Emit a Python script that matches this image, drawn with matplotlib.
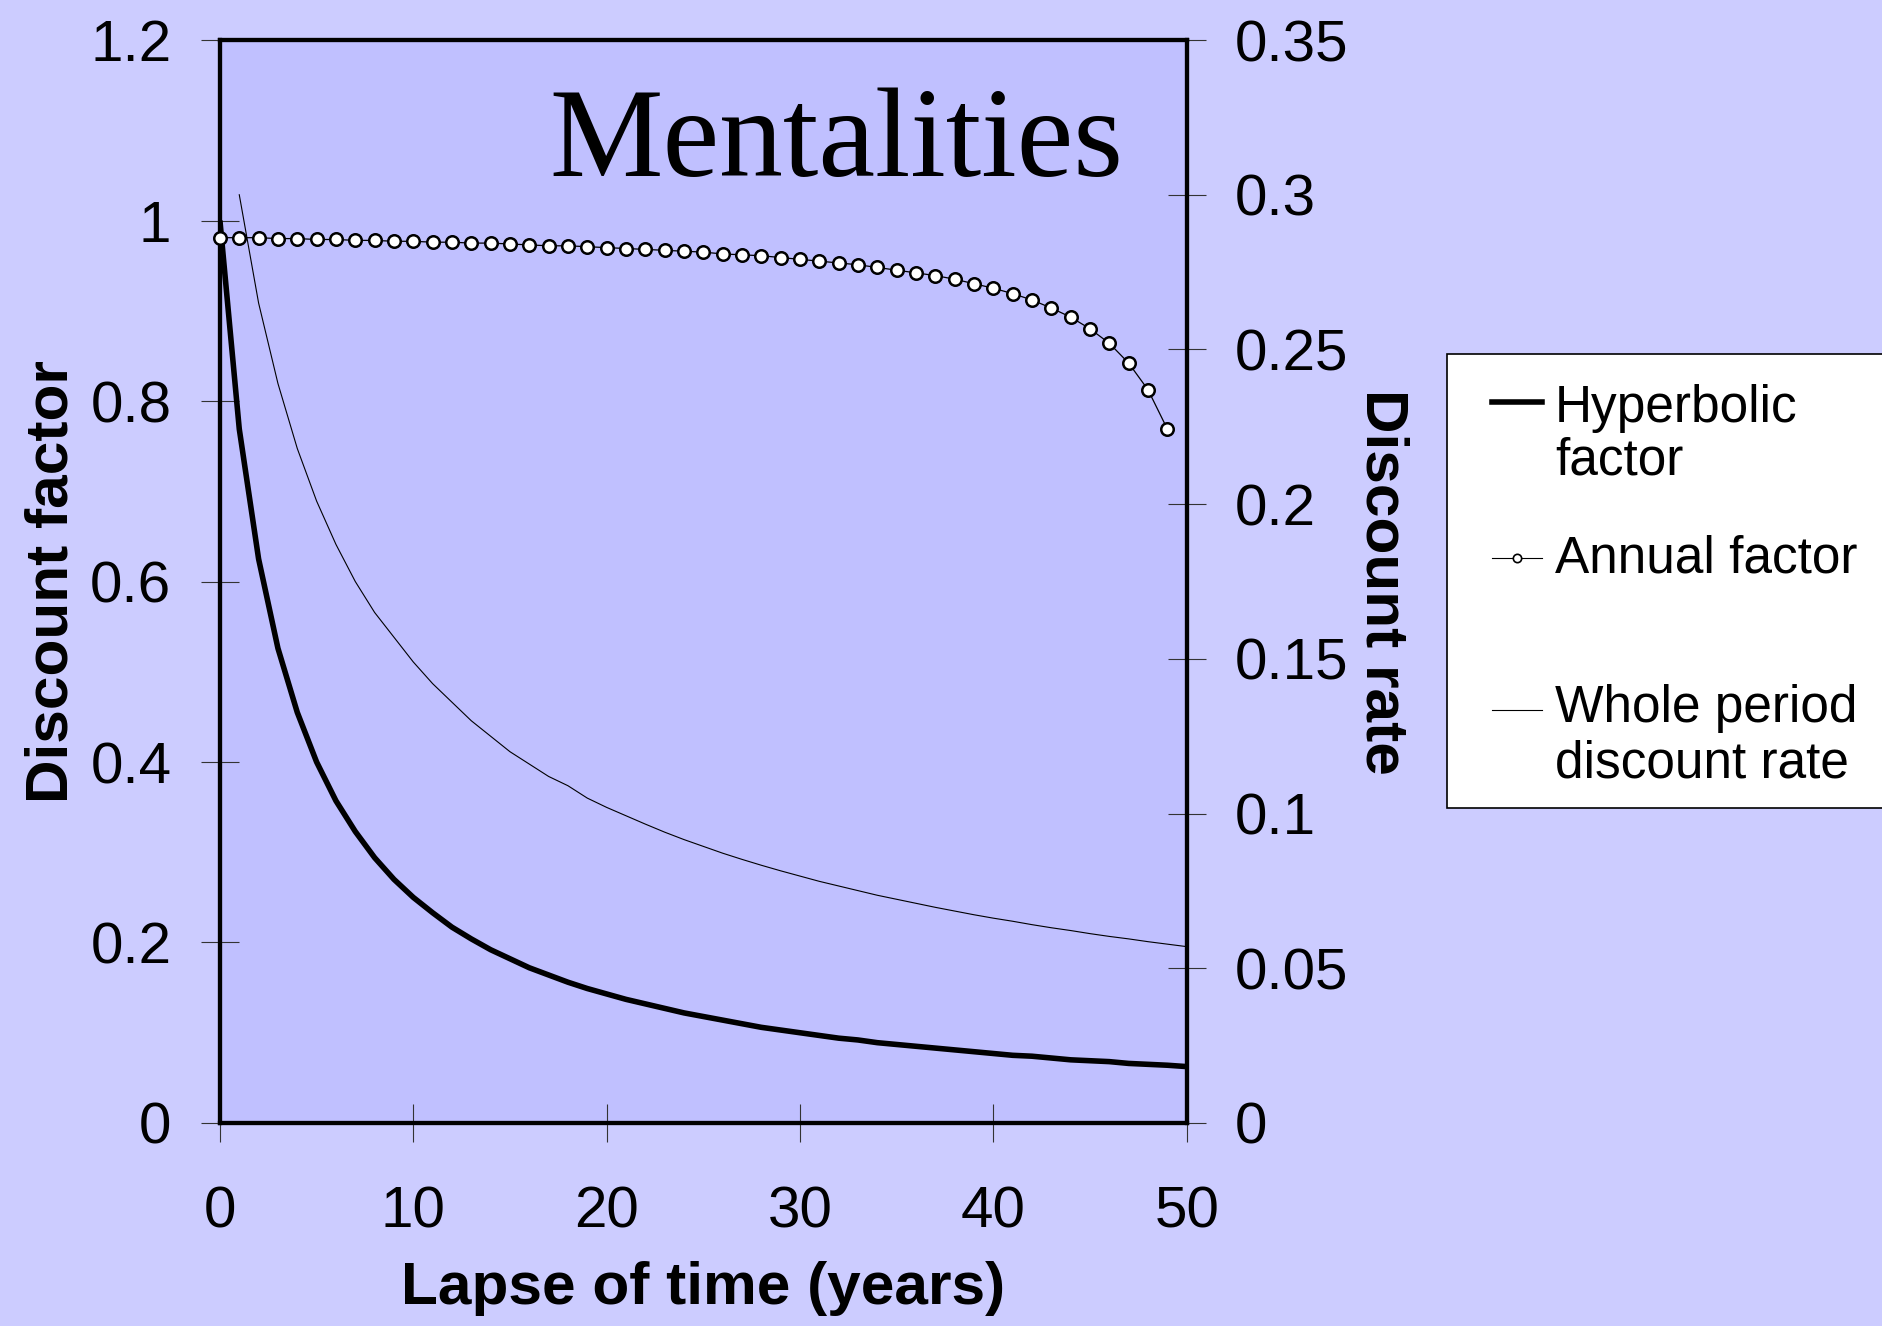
import matplotlib
matplotlib.use("Agg")
import matplotlib.pyplot as plt
from matplotlib.lines import Line2D
from matplotlib.patches import Rectangle
from matplotlib.ticker import FuncFormatter

plt.rcParams['font.family'] = ['Liberation Sans', 'DejaVu Sans']

# values
years = list(range(0, 51))
hyperbolic = [1.000, 0.769, 0.625, 0.526, 0.455, 0.400, 0.357, 0.323, 0.294, 0.270,
              0.250, 0.233, 0.217, 0.204, 0.192, 0.182, 0.172, 0.164, 0.156, 0.149,
              0.143, 0.137, 0.132, 0.127, 0.122, 0.118, 0.114, 0.110, 0.106, 0.103,
              0.100, 0.097, 0.094, 0.092, 0.089, 0.087, 0.085, 0.083, 0.081, 0.079,
              0.077, 0.075, 0.074, 0.072, 0.070, 0.069, 0.068, 0.066, 0.065, 0.064,
              0.0625]

annual_years = list(range(0, 50))
annual = [0.981, 0.981, 0.981, 0.980, 0.980, 0.979, 0.979, 0.978, 0.978, 0.977,
          0.977, 0.976, 0.976, 0.975, 0.975, 0.974, 0.973, 0.972, 0.972, 0.971,
          0.970, 0.969, 0.968, 0.967, 0.966, 0.965, 0.963, 0.962, 0.961, 0.959,
          0.957, 0.955, 0.953, 0.951, 0.948, 0.945, 0.942, 0.939, 0.935, 0.930,
          0.925, 0.919, 0.912, 0.903, 0.893, 0.880, 0.864, 0.842, 0.8125, 0.769]

rate_years = list(range(1, 51))
whole_rate = [0.300, 0.265, 0.239, 0.218, 0.201, 0.187, 0.175, 0.165, 0.157, 0.149,
              0.142, 0.136, 0.130, 0.125, 0.120, 0.116, 0.112, 0.109, 0.105, 0.102,
              0.0993, 0.0966, 0.0940, 0.0916, 0.0894, 0.0872, 0.0852, 0.0833, 0.0815, 0.0798,
              0.0781, 0.0766, 0.0751, 0.0736, 0.0723, 0.0710, 0.0697, 0.0685, 0.0673, 0.0662,
              0.0652, 0.0641, 0.0631, 0.0622, 0.0612, 0.0603, 0.0595, 0.0586, 0.0578, 0.0570]

x_ticks = [0, 10, 20, 30, 40, 50]
left_ticks = [0, 0.2, 0.4, 0.6, 0.8, 1.0, 1.2]
right_ticks = [0, 0.05, 0.1, 0.15, 0.2, 0.25, 0.3, 0.35]

outer_bg = '#CCCCFF'
inner_bg = '#C0C0FF'

fig = plt.figure(figsize=(18.83, 13.26), dpi=100, facecolor=outer_bg)
ax = fig.add_axes([0.1168, 0.1531, 0.5134, 0.8167])
ax2 = ax.twinx()

# right axis carries the background, left axis drawn on top
ax2.patch.set_visible(True)
ax2.set_facecolor(inner_bg)
ax.set_zorder(ax2.get_zorder() + 1)
ax.patch.set_visible(False)

ax2.plot(rate_years, whole_rate, color='black', lw=0.8)
ax.plot(years, hyperbolic, color='black', lw=4, solid_capstyle='butt')
ax.plot(annual_years, annual, color='black', lw=0.9, marker='o', markersize=9,
        markerfacecolor='white', markeredgecolor='black', markeredgewidth=1.8,
        clip_on=False, zorder=5)

fmt = FuncFormatter(lambda v, p: '%g' % round(v, 3))

ax.set_xlim(0, 50)
ax.set_ylim(0, 1.2)
ax2.set_ylim(0, 0.35)
ax.set_xticks(x_ticks)
ax.set_yticks(left_ticks)
ax2.set_yticks(right_ticks)
ax.xaxis.set_major_formatter(fmt)
ax.yaxis.set_major_formatter(fmt)
ax2.yaxis.set_major_formatter(fmt)

for a in (ax, ax2):
    for s in a.spines.values():
        s.set_linewidth(3)
        s.set_color('black')
ax.tick_params(axis='both', direction='inout', length=27.8, width=0.8,
               color='#333333', labelsize=42, pad=21)
ax.tick_params(axis='x', pad=31)
ax2.tick_params(axis='y', direction='inout', length=27.8, width=0.8,
                color='#333333', labelsize=42, pad=21)

ax.set_xlabel('Lapse of time (years)', fontsize=43.5, fontweight='bold')
ax.xaxis.set_label_coords(0.5, -0.1274)
ax.set_ylabel('Discount factor', fontsize=43.5, fontweight='bold')
ax.yaxis.set_label_coords(-0.145, 0.5)
ax2.set_ylabel('Discount rate', fontsize=43.5, fontweight='bold', rotation=270,
               va='bottom', ha='center', rotation_mode='anchor')
ax2.yaxis.set_label_coords(1.174, 0.5)

ax.text(0.6376, 0.874, 'Mentalities', transform=ax.transAxes, ha='center',
        va='baseline', fontsize=92, family=['Liberation Serif', 'DejaVu Serif'])

# legend box, drawn by hand to keep the original layout
fig.add_artist(Rectangle((0.7685, 0.3906), 0.26, 0.3424, transform=fig.transFigure,
                         facecolor='white', edgecolor='black', lw=1.2))
hx = [0.7924, 0.8189]
fig.add_artist(Line2D(hx, [0.6968, 0.6968], transform=fig.transFigure,
                      color='black', lw=4))
fig.add_artist(Line2D(hx, [0.5792, 0.5792], transform=fig.transFigure,
                      color='black', lw=0.8))
fig.add_artist(Line2D([sum(hx) / 2], [0.5792], transform=fig.transFigure,
                      marker='o', markersize=6, markerfacecolor='white',
                      markeredgecolor='black', markeredgewidth=1.2))
fig.add_artist(Line2D(hx, [0.4646, 0.4646], transform=fig.transFigure,
                      color='black', lw=0.8))

tx = 0.8258
legend_lines = [('Hyperbolic', 0.6818), ('factor', 0.6418), ('Annual factor', 0.5686),
                ('Whole period', 0.4555), ('discount rate', 0.4133)]
for txt, yb in legend_lines:
    fig.text(tx, yb, txt, fontsize=37, va='baseline', ha='left')

fig.savefig('out.png', dpi=100, facecolor=outer_bg)
